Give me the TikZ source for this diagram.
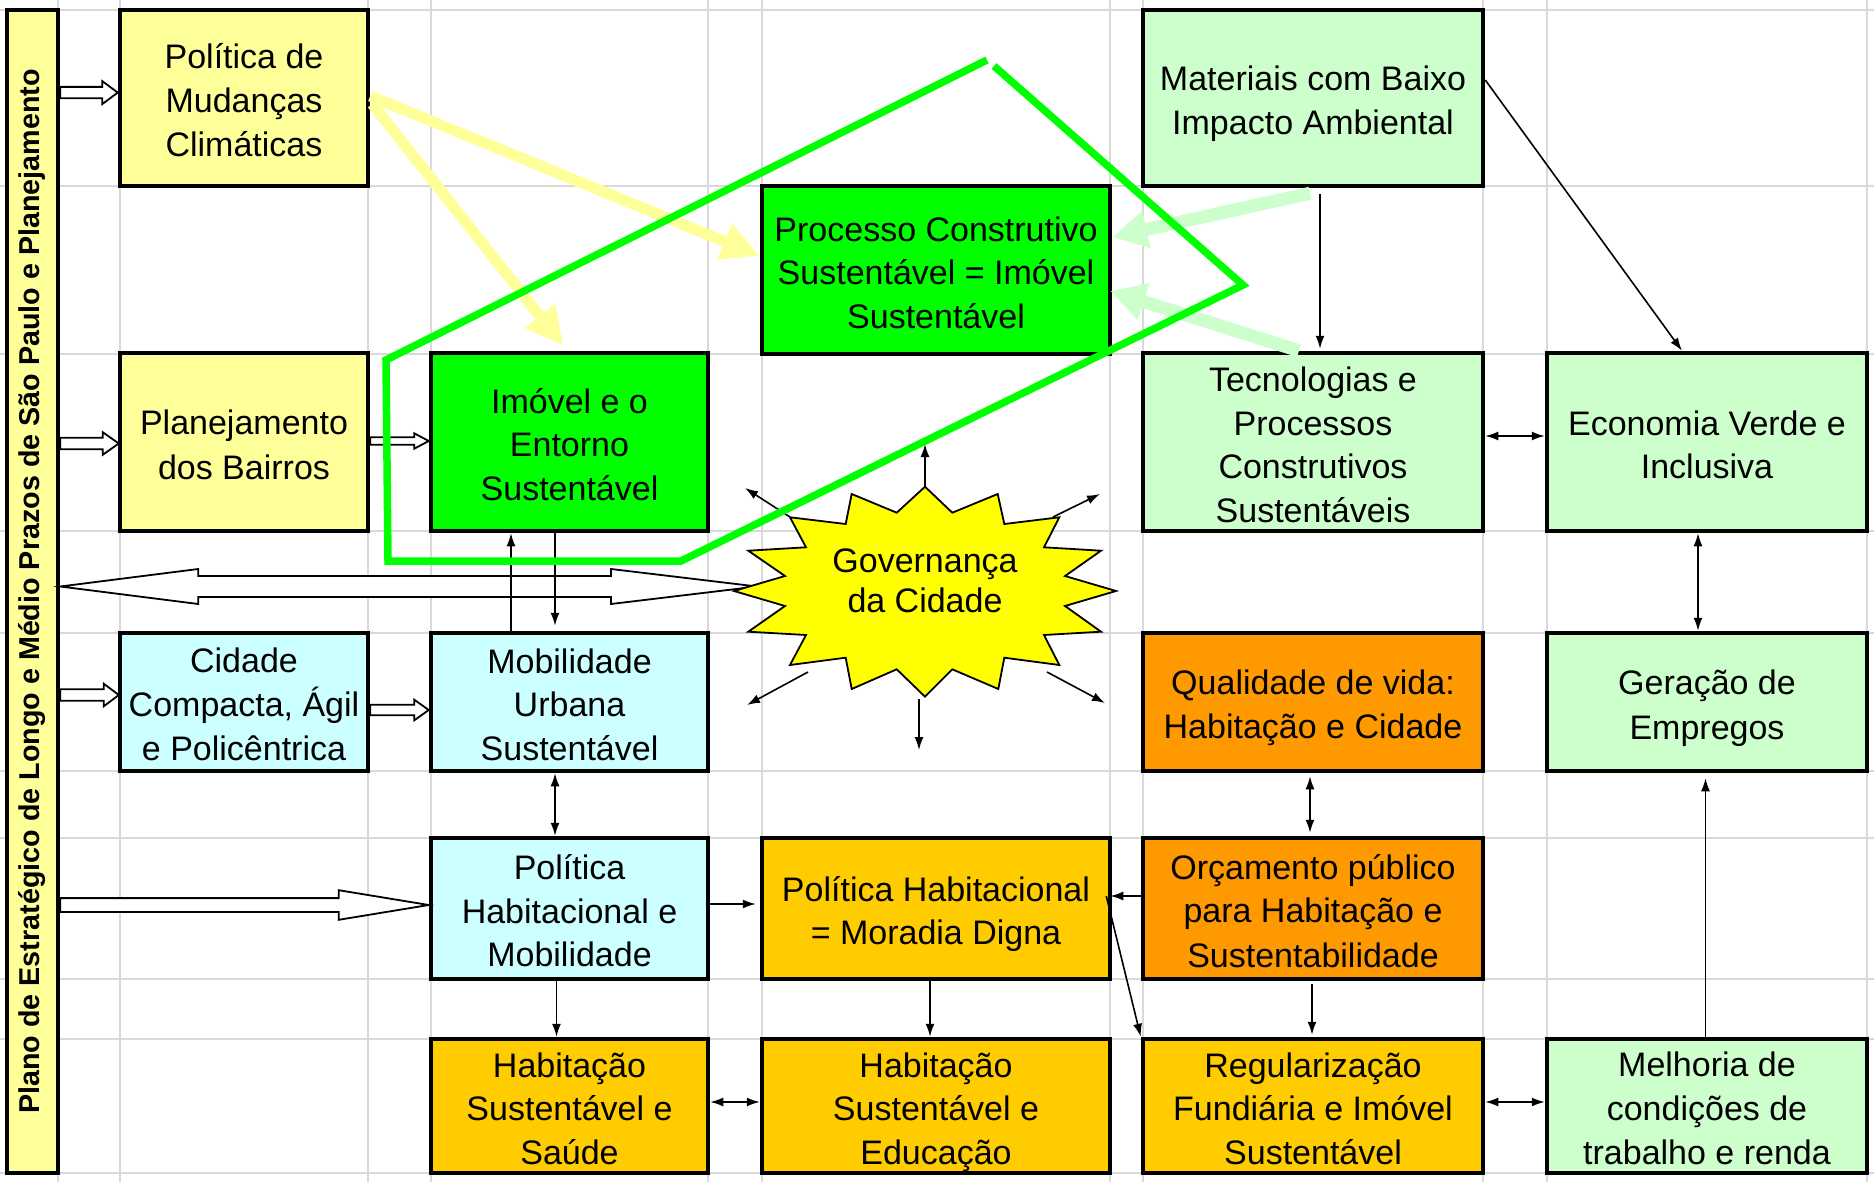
\documentclass[tikz,border=0pt]{standalone}
\usepackage{fontspec}
\setmainfont{Liberation Sans}
\usetikzlibrary{arrows.meta,calc}
\definecolor{lyellow}{HTML}{FFFF99}
\definecolor{bgreen}{HTML}{00FF00}
\definecolor{lgreen}{HTML}{CCFFCC}
\definecolor{lcyan}{HTML}{CCFFFF}
\definecolor{orng}{HTML}{FF9900}
\definecolor{gold}{HTML}{FFCC00}
\definecolor{staryel}{HTML}{FFFF00}
\definecolor{gridgray}{RGB}{217,217,217}
\definecolor{yarrow}{HTML}{FFFF99}
\definecolor{garrow}{HTML}{CCFFCC}
\newcommand\bs{\rule[-7pt]{0pt}{43.5pt}}
\newcommand\hollowarr[5]{\draw[hollow] let \p1=#1, \p2=#2 in
  (\x1,\y1+#3pt) -- (\x2-#5pt,\y1+#3pt) -- (\x2-#5pt,\y1+#4pt) -- (\x2,\y1)
  -- (\x2-#5pt,\y1-#4pt) -- (\x2-#5pt,\y1-#3pt) -- (\x1,\y1-#3pt) -- cycle;}
\begin{document}
\begin{tikzpicture}[x=1pt,y=-1pt,
  gridline/.style={gridgray,line width=2.5pt},
  box/.style={draw=black,line width=4.5pt,align=center,inner sep=0pt,
    font=\fontsize{34}{43.5}\selectfont},
  colA/.style={minimum width=248pt},
  colB/.style={minimum width=277pt},
  colC/.style={minimum width=348pt},
  colD/.style={minimum width=340pt},
  colE/.style={minimum width=320pt},
  hollow/.style={draw=black,fill=white,line width=1.8pt,line join=miter},
  arr/.style={line width=1.6pt,-{Latex[length=13pt,width=9pt]}},
  darr/.style={line width=1.6pt,{Latex[length=13pt,width=9pt]}-{Latex[length=13pt,width=9pt]}},
  yarr/.style={yarrow,line width=11pt,-{Triangle[length=38pt,width=36pt]}},
  garr/.style={garrow,line width=13pt,-{Triangle[length=35pt,width=36pt]}},
  greenline/.style={bgreen,line width=7.5pt,line join=miter}]
\useasboundingbox (0,0) rectangle (1874,1182);
\fill[white] (0,0) rectangle (1874,1182);
% grid
\foreach \gx in {58,120,368,431,708,762,1110,1143,1483,1547,1867}
  \draw[gridline] (\gx,0) -- (\gx,1182);
\foreach \gy in {10,186,354,531,633,771,838,979,1039,1173}
  \draw[gridline] (0,\gy) -- (1874,\gy);
% left bar
\node[draw=black,line width=4.5pt,fill=lyellow,minimum width=51pt,minimum height=1163pt,inner sep=0pt] (bar) at (32.5,591.5) {};
\node[rotate=90,font=\fontsize{28.7}{32}\selectfont\bfseries] (bartext) at (bar.center)
  {Plano de Estratégico de Longo e Médio Prazos de São Paulo e Planejamento};
% boxes
\node[box,colA,fill=lyellow,minimum height=176pt] (polmud) at (244,98) {\bs Política de\\Mudanças\\Climáticas\bs};
\node[box,colA,fill=lyellow,minimum height=178pt] (planej) at (244,442) {\bs Planejamento\\dos Bairros\bs};
\node[box,colB,fill=bgreen,minimum height=178pt] (imovel) at (569.5,442) {\bs Imóvel e o\\Entorno\\Sustentável\bs};
\node[box,colC,fill=bgreen,minimum height=168pt] (processo) at (936,270) {\bs Processo Construtivo\\Sustentável = Imóvel\\Sustentável\bs};
\node[box,colD,fill=lgreen,minimum height=176pt] (materiais) at (1313,98) {\bs Materiais com Baixo\\Impacto Ambiental\bs};
\node[box,colD,fill=lgreen,minimum height=178pt] (tecno) at (1313,442) {\bs Tecnologias e\\Processos\\Construtivos\\Sustentáveis\bs};
\node[box,colE,fill=lgreen,minimum height=178pt] (economia) at (1707,442) {\bs Economia Verde e\\Inclusiva\bs};
\node[box,colA,fill=lcyan,minimum height=138pt] (cidade) at (244,702) {\bs Cidade\\Compacta, Ágil\\e Policêntrica\bs};
\node[box,colB,fill=lcyan,minimum height=138pt] (mobil) at (569.5,702) {\bs Mobilidade\\Urbana\\Sustentável\bs};
\node[box,colD,fill=orng,minimum height=138pt] (qualid) at (1313,702) {\bs Qualidade de vida:\\Habitação e Cidade\bs};
\node[box,colE,fill=lgreen,minimum height=138pt] (geracao) at (1707,702) {\bs Geração de\\Empregos\bs};
\node[box,colB,fill=lcyan,minimum height=141pt] (polhab) at (569.5,908.5) {\bs Política\\Habitacional e\\Mobilidade\bs};
\node[box,colC,fill=gold,minimum height=141pt] (moradia) at (936,908.5) {\bs Política Habitacional\\= Moradia Digna\bs};
\node[box,colD,fill=orng,minimum height=141pt] (orcam) at (1313,908.5) {\bs Orçamento público\\para Habitação e\\Sustentabilidade\bs};
\node[box,colB,fill=gold,minimum height=134pt] (saude) at (569.5,1106) {\bs Habitação\\Sustentável e\\Saúde\bs};
\node[box,colC,fill=gold,minimum height=134pt] (educ) at (936,1106) {\bs Habitação\\Sustentável e\\Educação\bs};
\node[box,colD,fill=gold,minimum height=134pt] (regul) at (1313,1106) {\bs Regularização\\Fundiária e Imóvel\\Sustentável\bs};
\node[box,colE,fill=lgreen,minimum height=134pt] (melhoria) at (1707,1106) {\bs Melhoria de\\condições de\\trabalho e renda\bs};
% hollow arrows
\hollowarr{($(bar.east |- polmud.west)+(0,-5.4)$)}{($(polmud.west)+(0,-5.4)$)}{5.7}{11.5}{15.5}
\hollowarr{($(bar.east |- planej.west)+(0,1.5)$)}{($(planej.west)+(1,1.5)$)}{5.7}{11.3}{16}
\hollowarr{($(planej.east)+(0,-1)$)}{($(imovel.west)+(0,-1)$)}{3.8}{7.7}{14.5}
\hollowarr{($(bar.east |- cidade.west)+(0,-7)$)}{($(cidade.west)+(1,-7)$)}{5.8}{11.3}{15}
\hollowarr{($(cidade.east)+(0,8)$)}{($(mobil.west)+(0,8)$)}{5.3}{10.3}{14.5}
\hollowarr{($(bar.east |- polhab.west)+(0,-3.5)$)}{($(polhab.west)+(0,-3.5)$)}{6.9}{14.8}{90}
\coordinate (govtip) at (757,586.5);
\draw[hollow] let \p1=(bar.east |- govtip), \p2=(govtip) in
  (\x1,\y1) -- (\x1+138pt,\y1+17.5pt) -- (\x1+138pt,\y1+10.5pt) -- (\x2-146pt,\y1+10.5pt)
  -- (\x2-146pt,\y1+17.5pt) -- (\x2,\y2) -- (\x2-146pt,\y1-17.5pt) -- (\x2-146pt,\y1-10.5pt)
  -- (\x1+138pt,\y1-10.5pt) -- (\x1+138pt,\y1-17.5pt) -- cycle;
% thin arrows
\draw[arr] ($(materiais.south)+(7,6)$) -- ($(tecno.north)+(7,-2)$);
\draw[arr] ($(materiais.east)+(0,-18)$) -- ($(economia.north)+(-25,0)$);
\draw[darr] ($(tecno.east)+(0,-6)$) -- ($(economia.west)+(0,-6)$);
\draw[darr] ($(economia.south)+(-9,0)$) -- ($(geracao.north)+(-9,0)$);
\draw[arr] ($(melhoria.north)+(-1.5,0)$) -- ($(geracao.south)+(-1.5,5)$);
\draw[darr] ($(regul.east)+(0,-4)$) -- ($(melhoria.west)+(0,-4)$);
\draw[darr] ($(qualid.south)+(-3,3)$) -- ($(orcam.north)+(-3,-3)$);
\draw[arr] ($(orcam.south)+(-1,3)$) -- ($(regul.north)+(-1,-2)$);
\draw[arr] ($(orcam.west)+(0,-12.5)$) -- ($(moradia.east)+(-2,-12.5)$);
\draw[arr] ($(moradia.east)+(-6,-12.5)$) -- (regul.north west);
\draw[arr] ($(polhab.east)+(0,-4.5)$) -- ($(moradia.west)+(-4,-4.5)$);
\draw[arr] ($(polhab.south)+(-13,0)$) -- ($(saude.north)+(-13,0)$);
\draw[arr] ($(moradia.south)+(-6,0)$) -- ($(educ.north)+(-6,0)$);
\draw[darr] ($(saude.east)+(0,-4)$) -- ($(educ.west)+(0,-4)$);
\draw[darr] ($(mobil.south)+(-14.5,0)$) -- ($(polhab.north)+(-14.5,0)$);
\draw[arr] ($(imovel.south)+(-14.5,0)$) -- ($(mobil.north)+(-14.5,-5)$);
\draw[arr] ($(mobil.north)+(-58.5,0)$) -- ($(imovel.south)+(-58.5,0)$);
% star
\draw[fill=staryel,line width=1.8pt,line join=miter]
  (925,486.7) -- (952.3,512.7) -- (997.7,494) -- (1004.3,524) -- (1059.3,517.3)
  -- (1044,547.3) -- (1101,550.7) -- (1065,576) -- (1116,591) -- (1065,606)
  -- (1101,631.7) -- (1044,635) -- (1059.3,665) -- (1004.3,657.7) -- (998.3,689)
  -- (952.3,669.3) -- (925,696.7) -- (896.7,669.3) -- (851.7,689) -- (845.7,657.7)
  -- (790,665) -- (806,635) -- (748.3,631.7) -- (785,606) -- (734,591) -- (785,576)
  -- (748.3,550.7) -- (806,547.3) -- (790,517.3) -- (845.7,524) -- (851.7,494)
  -- (896.7,512.7) -- cycle;
\node[align=center,inner sep=0pt,font=\fontsize{34}{40}\selectfont] (gov) at (925,581) {Governança\\da Cidade};
\coordinate (s1) at (925,487);   \coordinate (t1) at (925,444);
\coordinate (s2) at (790,517);   \coordinate (t2) at (745,488);
\coordinate (s3) at (1053,517);  \coordinate (t3) at (1100,494);
\coordinate (s4) at (808,672);   \coordinate (t4) at (747,705);
\coordinate (s5) at (1047,672);  \coordinate (t5) at (1105,703);
\coordinate (s6) at (919,699);   \coordinate (t6) at (919,750);
\foreach \i in {1,...,6} \draw[arr] (s\i) -- (t\i);
% thick coloured arrows
\draw[yarr] ($(polmud.east)+(0,-2)$) -- ($(processo.west)+(0,-14)$);
\draw[yarr] ($(polmud.east)+(2,6)$) -- ($(imovel.north)+(-6,-5)$);
\draw[garr] ($(materiais.south)+(-3,5)$) -- ($(processo.east)+(0,-33)$);
\draw[garr] ($(tecno.north)+(-14,0)$) -- ($(processo.east)+(-2,21)$);
% green outline
\draw[greenline] (987,60) -- (386,360) -- (388,561) -- (681,561) -- (1243,285) -- (994,66);
\end{tikzpicture}
\end{document}
